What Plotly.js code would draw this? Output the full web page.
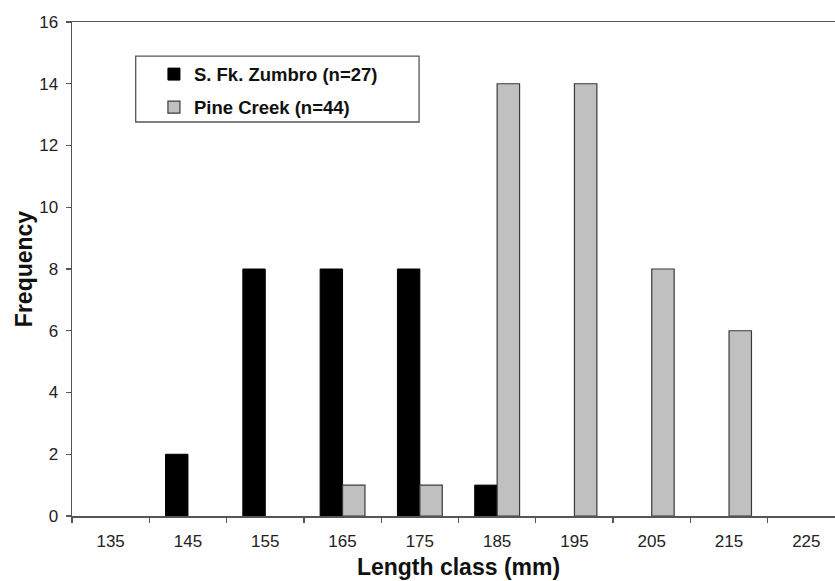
<!DOCTYPE html>
<html>
<head>
<meta charset="utf-8">
<script src="https://cdn.plot.ly/plotly-3.0.1.min.js"></script>
<style>
  html, body { margin: 0; padding: 0; overflow: hidden; background: #fff; }
  #chart { width: 845px; height: 581px; }
</style>
</head>
<body>
<div id="chart"></div>
<script>
const lengthClasses = ['135', '145', '155', '165', '175', '185', '195', '205', '215', '225'];
const zumbroCounts = [0, 2, 8, 8, 8, 1, 0, 0, 0, 0];
const pineCounts   = [0, 0, 0, 1, 1, 14, 14, 8, 6, 0];
const seriesNames  = ['S. Fk. Zumbro (n=27)', 'Pine Creek (n=44)'];
const yTicks = [0, 2, 4, 6, 8, 10, 12, 14, 16];

const FONT = 'Liberation Sans, Arial, Helvetica, sans-serif';
const AXIS_COLOR = '#555';

const zumbroStyle = { color: '#000000', lineColor: '#000000', lineWidth: 1 };
const pineStyle   = { color: '#c0c0c0', lineColor: '#3a3a3a', lineWidth: 1.2 };

// no outline on empty (zero-height) bars
const outlineWidths = (vals, w) => vals.map(v => (v > 0 ? w : 0));

const traces = [
  {
    type: 'bar', name: seriesNames[0], x: lengthClasses, y: zumbroCounts,
    offsetgroup: 'z', showlegend: false,
    marker: { color: zumbroStyle.color, line: { color: zumbroStyle.lineColor, width: outlineWidths(zumbroCounts, zumbroStyle.lineWidth) } },
    hoverinfo: 'skip'
  },
  {
    type: 'bar', name: seriesNames[1], x: lengthClasses, y: pineCounts,
    offsetgroup: 'p', showlegend: false,
    marker: { color: pineStyle.color, line: { color: pineStyle.lineColor, width: outlineWidths(pineCounts, pineStyle.lineWidth) } },
    hoverinfo: 'skip'
  },
  // legend entries only (a single empty point each)
  {
    type: 'bar', name: seriesNames[0], x: [lengthClasses[0]], y: [null],
    offsetgroup: 'z', legendgroup: 'a', showlegend: true, hoverinfo: 'skip',
    marker: { color: zumbroStyle.color, line: { color: zumbroStyle.lineColor, width: zumbroStyle.lineWidth } }
  },
  {
    type: 'bar', name: seriesNames[1], x: [lengthClasses[0]], y: [null],
    offsetgroup: 'p', legendgroup: 'b', showlegend: true, hoverinfo: 'skip',
    marker: { color: pineStyle.color, line: { color: pineStyle.lineColor, width: pineStyle.lineWidth } }
  }
];

const layout = {
  width: 845, height: 581,
  margin: { l: 72, r: 0, t: 22, b: 65, pad: 0 },
  paper_bgcolor: '#ffffff', plot_bgcolor: '#ffffff',
  font: { family: FONT, color: '#222' },
  barmode: 'group', bargap: 0.42, bargroupgap: 0,
  showlegend: true,
  legend: {
    x: 0.106, xanchor: 'left', y: 0.932, yanchor: 'top',
    bgcolor: 'rgba(0,0,0,0)', borderwidth: 0,
    tracegroupgap: 6,
    font: { family: FONT, size: 18.5, weight: 'bold', color: '#111' }
  },
  shapes: [{
    type: 'rect', xref: 'paper', yref: 'paper',
    x0: 0.0824, x1: 0.449, y0: 0.7976, y1: 0.931,
    line: { color: AXIS_COLOR, width: 1.3 }, fillcolor: 'rgba(0,0,0,0)'
  }],
  xaxis: {
    type: 'category', categoryorder: 'array', categoryarray: lengthClasses,
    range: [-0.5, 9.5], fixedrange: true,
    tickson: 'boundaries', ticks: 'outside', ticklen: 5, tickwidth: 1.3, tickcolor: AXIS_COLOR,
    showline: true, linecolor: AXIS_COLOR, linewidth: 1.5, mirror: true,
    showgrid: false, zeroline: false,
    tickfont: { family: FONT, size: 17, color: '#222' },
    ticklabelstandoff: 9,
    title: { text: 'Length class (mm)', standoff: 9,
      font: { family: FONT, size: 23, weight: 'bold', color: '#111' } },
    automargin: false
  },
  yaxis: {
    range: [0, 16], tickvals: yTicks, fixedrange: true,
    ticks: 'outside', ticklen: 5, tickwidth: 1.3, tickcolor: AXIS_COLOR,
    showline: true, linecolor: AXIS_COLOR, linewidth: 1.5, mirror: false,
    showgrid: false, zeroline: false,
    tickfont: { family: FONT, size: 17, color: '#222' },
    ticklabelstandoff: 4,
    title: { text: 'Frequency', standoff: 0,
      font: { family: FONT, size: 23, weight: 'bold', color: '#111' } },
    automargin: false
  }
};

Plotly.newPlot('chart', traces, layout, { displayModeBar: false, staticPlot: true });
</script>
</body>
</html>
